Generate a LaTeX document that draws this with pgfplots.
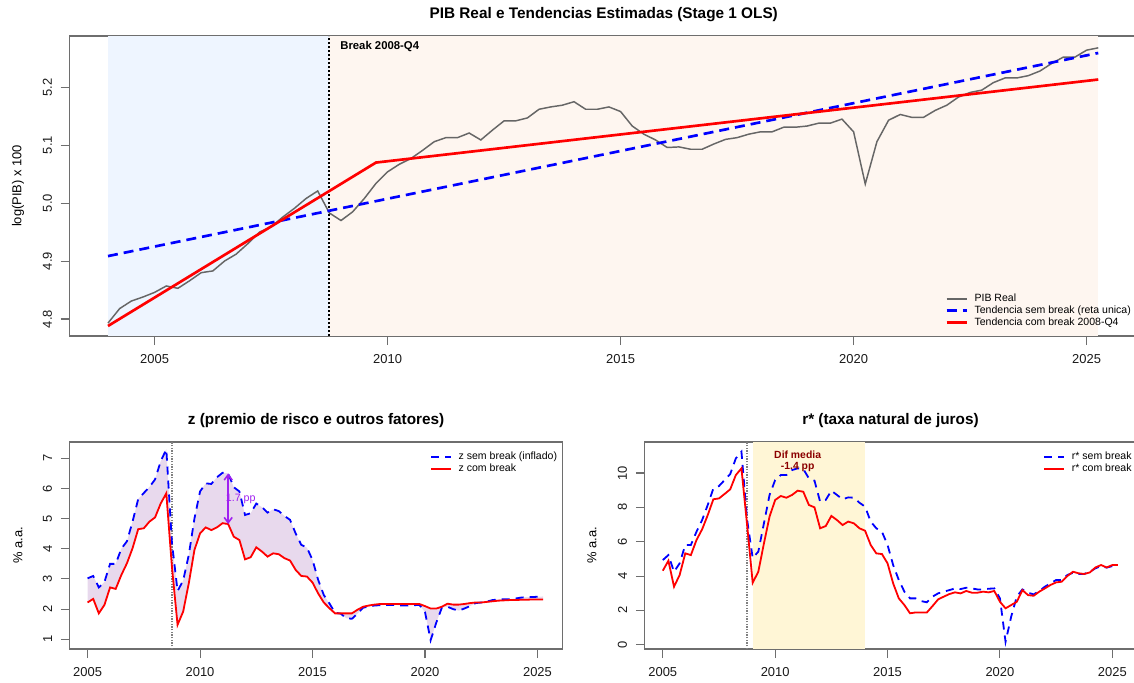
\documentclass[border=0pt]{standalone}
\usepackage{pgfplots}
\pgfplotsset{compat=1.18}
\usepackage{pgfplotstable}
\usepackage{fontspec}
\setmainfont{Liberation Sans}
\usepgfplotslibrary{fillbetween}
\usetikzlibrary{arrows.meta}

\definecolor{pibgray}{RGB}{102,102,102}
\definecolor{shblue}{RGB}{238,245,255}
\definecolor{shorange}{RGB}{254,246,240}
\definecolor{shyellow}{RGB}{255,246,214}
\definecolor{fillpurple}{RGB}{232,217,237}
\definecolor{rpurple}{RGB}{160,32,240}
\definecolor{framegray}{RGB}{110,110,110}
\definecolor{rdarkred}{RGB}{139,0,0}

\pgfplotstableread{
t pib
2004.00 4.793
2004.25 4.818
2004.50 4.831
2004.75 4.838
2005.00 4.846
2005.25 4.857
2005.50 4.853
2005.75 4.866
2006.00 4.880
2006.25 4.883
2006.50 4.900
2006.75 4.912
2007.00 4.930
2007.25 4.950
2007.50 4.959
2007.75 4.976
2008.00 4.991
2008.25 5.008
2008.50 5.021
2008.75 4.983
2009.00 4.970
2009.25 4.985
2009.50 5.008
2009.75 5.034
2010.00 5.054
2010.25 5.067
2010.50 5.077
2010.75 5.091
2011.00 5.106
2011.25 5.113
2011.50 5.113
2011.75 5.121
2012.00 5.109
2012.25 5.126
2012.50 5.142
2012.75 5.142
2013.00 5.147
2013.25 5.162
2013.50 5.166
2013.75 5.169
2014.00 5.175
2014.25 5.162
2014.50 5.162
2014.75 5.166
2015.00 5.158
2015.25 5.133
2015.50 5.119
2015.75 5.109
2016.00 5.096
2016.25 5.097
2016.50 5.093
2016.75 5.093
2017.00 5.102
2017.25 5.110
2017.50 5.113
2017.75 5.119
2018.00 5.123
2018.25 5.123
2018.50 5.131
2018.75 5.131
2019.00 5.133
2019.25 5.138
2019.50 5.138
2019.75 5.145
2020.00 5.123
2020.25 5.033
2020.50 5.106
2020.75 5.143
2021.00 5.153
2021.25 5.148
2021.50 5.148
2021.75 5.160
2022.00 5.169
2022.25 5.183
2022.50 5.191
2022.75 5.195
2023.00 5.208
2023.25 5.216
2023.50 5.216
2023.75 5.220
2024.00 5.228
2024.25 5.241
2024.50 5.252
2024.75 5.252
2025.00 5.264
2025.25 5.268
}\pibtable

\pgfplotstableread{
t sem com
2005.00 3.02 2.22
2005.25 3.10 2.34
2005.50 2.72 1.86
2005.75 2.90 2.14
2006.00 3.50 2.72
2006.25 3.50 2.67
2006.50 4.00 3.13
2006.75 4.25 3.52
2007.00 4.90 4.02
2007.25 5.65 4.65
2007.50 5.85 4.68
2007.75 6.05 4.90
2008.00 6.30 5.04
2008.25 6.90 5.50
2008.50 7.30 5.84
2008.75 4.20 3.40
2009.00 2.60 1.48
2009.25 2.95 1.92
2009.50 3.80 2.86
2009.75 5.00 3.96
2010.00 5.90 4.51
2010.25 6.17 4.71
2010.50 6.15 4.62
2010.75 6.37 4.71
2011.00 6.52 4.85
2011.25 6.50 4.82
2011.50 6.04 4.40
2011.75 5.90 4.29
2012.00 5.12 3.65
2012.25 5.18 3.72
2012.50 5.50 4.05
2012.75 5.38 3.91
2013.00 5.20 3.74
2013.25 5.31 3.85
2013.50 5.25 3.82
2013.75 5.09 3.69
2014.00 4.96 3.61
2014.25 4.51 3.30
2014.50 4.13 3.10
2014.75 4.04 3.08
2015.00 3.63 2.88
2015.25 2.97 2.52
2015.50 2.47 2.22
2015.75 2.19 2.03
2016.00 1.88 1.86
2016.25 1.85 1.86
2016.50 1.70 1.86
2016.75 1.68 1.86
2017.00 1.85 1.98
2017.25 2.05 2.08
2017.50 2.08 2.12
2017.75 2.12 2.15
2018.00 2.13 2.17
2018.25 2.14 2.17
2018.50 2.14 2.17
2018.75 2.13 2.17
2019.00 2.12 2.17
2019.25 2.12 2.17
2019.50 2.13 2.17
2019.75 2.14 2.17
2020.00 1.90 2.10
2020.25 0.97 2.02
2020.50 1.55 2.02
2020.75 2.05 2.08
2021.00 2.08 2.18
2021.25 2.00 2.15
2021.50 1.95 2.15
2021.75 2.02 2.17
2022.00 2.10 2.20
2022.25 2.20 2.22
2022.50 2.22 2.22
2022.75 2.25 2.24
2023.00 2.30 2.26
2023.25 2.32 2.28
2023.50 2.33 2.29
2023.75 2.33 2.30
2024.00 2.35 2.30
2024.25 2.38 2.31
2024.50 2.40 2.31
2024.75 2.40 2.32
2025.00 2.41 2.32
2025.25 2.42 2.32
}\ztable

\pgfplotstableread{
t sem com
2005.00 4.93 4.31
2005.25 5.22 4.89
2005.50 4.25 3.38
2005.75 4.74 4.06
2006.00 5.81 5.32
2006.25 5.81 5.22
2006.50 6.58 6.10
2006.75 7.26 6.72
2007.00 8.14 7.55
2007.25 9.10 8.47
2007.50 9.24 8.52
2007.75 9.59 8.78
2008.00 9.94 9.05
2008.25 10.85 9.88
2008.50 11.24 10.27
2008.75 7.30 7.00
2009.00 5.05 3.61
2009.25 5.42 4.25
2009.50 7.07 5.90
2009.75 8.72 7.46
2010.00 9.59 8.43
2010.25 9.88 8.66
2010.50 9.88 8.56
2010.75 10.17 8.72
2011.00 10.27 8.97
2011.25 10.23 8.91
2011.50 9.69 8.14
2011.75 9.55 8.00
2012.00 8.33 6.78
2012.25 8.43 6.91
2012.50 8.97 7.50
2012.75 8.72 7.26
2013.00 8.47 6.97
2013.25 8.58 7.17
2013.50 8.56 7.07
2013.75 8.27 6.78
2014.00 8.04 6.64
2014.25 7.17 5.81
2014.50 6.78 5.32
2014.75 6.58 5.28
2015.00 5.81 4.74
2015.25 4.64 3.57
2015.50 3.77 2.70
2015.75 3.09 2.31
2016.00 2.70 1.83
2016.25 2.70 1.88
2016.50 2.54 1.88
2016.75 2.47 1.88
2017.00 2.80 2.25
2017.25 2.99 2.64
2017.50 3.09 2.80
2017.75 3.18 2.95
2018.00 3.28 3.05
2018.25 3.24 2.99
2018.50 3.32 3.13
2018.75 3.28 3.03
2019.00 3.22 3.03
2019.25 3.22 3.09
2019.50 3.26 3.05
2019.75 3.28 3.13
2020.00 2.70 2.50
2020.25 0.17 2.12
2020.50 1.63 2.31
2020.75 2.80 2.50
2021.00 3.22 3.18
2021.25 3.03 2.89
2021.50 2.93 2.85
2021.75 3.13 3.09
2022.00 3.38 3.28
2022.25 3.57 3.48
2022.50 3.77 3.63
2022.75 3.77 3.67
2023.00 4.06 4.00
2023.25 4.19 4.25
2023.50 4.12 4.16
2023.75 4.12 4.12
2024.00 4.25 4.21
2024.25 4.45 4.50
2024.50 4.58 4.64
2024.75 4.49 4.50
2025.00 4.58 4.64
2025.25 4.60 4.64
}\rtable

\pgfplotsset{
  rstyle/.style={
    scale only axis,
    anchor=north west,
    axis line style={framegray, line width=0.8pt},
    tick align=outside,
    xtick pos=left, ytick pos=left,
    major tick length=6.75pt,
    tick style={framegray, line width=0.8pt},
    ticklabel style={font=\fontsize{9.7}{11}\selectfont, text=black!90},
    /pgf/number format/assume math mode=true,
    /pgf/number format/1000 sep={},
    yticklabel style={rotate=90, anchor=south},
    xticklabel shift=3.5pt,
    yticklabel shift=3pt,
    every axis title shift=0pt,
    legend cell align=left,
    legend style={draw=none, fill=none, inner sep=0pt, row sep=-1.5pt,
      font=\fontsize{7.9}{9}\selectfont, nodes={inner sep=1.5pt}},
    legend image code/.code={\draw[#1] (0pt,0pt) -- (15pt,0pt); \path (18.5pt,0pt);},
    label style={font=\fontsize{9.7}{11}\selectfont},
  }
}

\begin{document}
\begin{tikzpicture}

% ---------------- top panel ----------------
\begin{axis}[rstyle,
  at={(52.2pt,-27pt)}, width=801.2pt, height=225pt,
  xmin=2003.176, xmax=2026.1, ymin=4.7707, ymax=5.2884,
  xtick={2005,2010,2015,2020,2025},
  ytick={4.8,4.9,5.0,5.1,5.2},
  yticklabel style={/pgf/number format/.cd, fixed, fixed zerofill, precision=1},
  ylabel={log(PIB) x 100},
  ylabel style={at={(axis description cs:-0.0483,0.5)}, anchor=center},
  title={PIB Real e Tendencias Estimadas (Stage 1 OLS)},
  title style={at={(axis description cs:0.5,1.07)}, anchor=center, font=\bfseries\fontsize{11.5}{13}\selectfont},
  legend style={at={(axis description cs:0.8194,0.1467)}, anchor=north west},
]
\addplot[fill=shblue, draw=none, forget plot] coordinates {(2004,4.7707) (2008.75,4.7707) (2008.75,5.2884) (2004,5.2884)} -- cycle;
\addplot[fill=shorange, draw=none, forget plot] coordinates {(2008.75,4.7707) (2025.25,4.7707) (2025.25,5.2884) (2008.75,5.2884)} -- cycle;
\addplot[black, line width=1.3pt, dash pattern=on 1.5pt off 1.5pt, forget plot] coordinates {(2008.75,4.7707) (2008.75,5.2884)};
\addplot[pibgray, line width=1.1pt] table[x=t, y=pib] {\pibtable};
\addlegendentry{PIB Real}
\addplot[blue, line width=2pt, dash pattern=on 7.5pt off 4.5pt] coordinates {(2004.0,4.9086) (2025.25,5.2591)};
\addlegendentry{Tendencia sem break (reta unica)}
\addplot[red, line width=2pt] coordinates {(2004.0,4.788) (2009.75,5.070) (2025.25,5.2133)};
\addlegendentry{Tendencia com break 2008-Q4}
\node[anchor=west, inner sep=0pt, font=\bfseries\fontsize{8.5}{10}\selectfont] at (axis cs:2008.98,5.2695) {Break 2008-Q4};
\end{axis}

% ---------------- bottom left ----------------
\begin{axis}[rstyle,
  at={(52.35pt,-331.5pt)}, width=369.5pt, height=155.25pt,
  xmin=2004.21, xmax=2026.11, ymin=0.678, ymax=7.54,
  xtick={2005,2010,2015,2020,2025},
  ytick={1,2,3,4,5,6,7},
  ylabel={\% a.a.},
  ylabel style={at={(axis description cs:-0.105,0.5)}, anchor=center},
  title={z (premio de risco e outros fatores)},
  title style={at={(axis description cs:0.5,1.1014)}, anchor=center, font=\bfseries\fontsize{11.5}{13}\selectfont},
  legend style={at={(axis description cs:0.731,0.961)}, anchor=north west},
]
\addplot[draw=none, name path=zsem, forget plot] table[x=t, y=sem] {\ztable};
\addplot[draw=none, name path=zcom, forget plot] table[x=t, y=com] {\ztable};
\addplot[fillpurple, draw=none, forget plot] fill between[of=zsem and zcom];
\addplot[black!50, line width=0.9pt, dash pattern=on 1pt off 1pt, forget plot] coordinates {(2008.75,0.678) (2008.75,7.54)};
\addplot[blue, line width=1.35pt, dash pattern=on 6pt off 4.5pt] table[x=t, y=sem] {\ztable};
\addlegendentry{z sem break (inflado)}
\addplot[red, line width=1.35pt] table[x=t, y=com] {\ztable};
\addlegendentry{z com break}
\addplot[rpurple, line width=1.2pt, {Straight Barb[length=4pt,width=6pt]}-{Straight Barb[length=4pt,width=6pt]}, forget plot] coordinates {(2011.25,4.82) (2011.25,6.50)};
\node[text=rpurple, inner sep=0pt, font=\fontsize{8}{9}\selectfont] at (axis cs:2011.81,5.66) {1.7 pp};
\end{axis}

% ---------------- bottom right ----------------
\begin{axis}[rstyle,
  at={(483.6pt,-331.5pt)}, width=368.5pt, height=155.25pt,
  xmin=2004.2, xmax=2026.06, ymin=-0.25, ymax=11.805,
  xtick={2005,2010,2015,2020,2025},
  ytick={0,2,4,6,8,10},
  ylabel={\% a.a.},
  ylabel style={at={(axis description cs:-0.1075,0.5)}, anchor=center},
  title={r* (taxa natural de juros)},
  title style={at={(axis description cs:0.5,1.1014)}, anchor=center, font=\bfseries\fontsize{11.5}{13}\selectfont},
  legend style={at={(axis description cs:0.8107,0.961)}, anchor=north west},
]
\addplot[fill=shyellow, draw=none, forget plot] coordinates {(2009,-0.25) (2014,-0.25) (2014,11.805) (2009,11.805)} -- cycle;
\addplot[black!50, line width=0.9pt, dash pattern=on 1pt off 1pt, forget plot] coordinates {(2008.75,-0.25) (2008.75,11.805)};
\addplot[blue, line width=1.35pt, dash pattern=on 6pt off 4.5pt] table[x=t, y=sem] {\rtable};
\addlegendentry{r* sem break}
\addplot[red, line width=1.35pt] table[x=t, y=com] {\rtable};
\addlegendentry{r* com break}
\node[text=rdarkred, inner sep=0pt, font=\bfseries\fontsize{7.8}{9}\selectfont] at (axis cs:2011,11.09) {Dif media};
\node[text=rdarkred, inner sep=0pt, font=\bfseries\fontsize{7.8}{9}\selectfont] at (axis cs:2011,10.33) {-1.4 pp};
\end{axis}

\pgfresetboundingbox
\path[use as bounding box] (0pt,0pt) rectangle (850.5pt,-511.5pt);
\end{tikzpicture}
\end{document}
